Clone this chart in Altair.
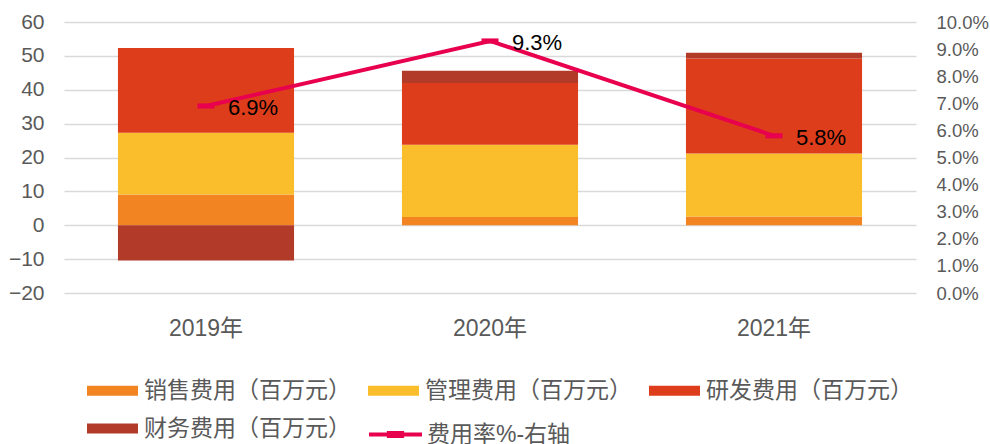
import altair as alt
import pandas as pd

years = ["2019年", "2020年", "2021年"]
series = ["销售费用（百万元）", "管理费用（百万元）", "研发费用（百万元）", "财务费用（百万元）"]
sales = [9.1, 2.4, 2.6]
admin = [18.2, 21.4, 18.6]
rnd = [25.0, 18.2, 28.0]
fin = [-10.4, 3.6, 1.7]
rate = [0.069, 0.093, 0.058]
line_name = "费用率%-右轴"

colors = ["#F28522", "#FABD2C", "#DD3D1B", "#B23A29"]
crimson = "#E8004F"
gray = "#595959"
font = "Liberation Sans, Noto Sans CJK SC, sans-serif"

rows = []
for s_i, (name, vals) in enumerate(zip(series, [sales, admin, rnd, fin])):
    for y, v in zip(years, vals):
        rows.append({"year": y, "series": name, "value": v, "ord": s_i})
df_bars = pd.DataFrame(rows)
df_line = pd.DataFrame({"year": years, "rate": rate, "name": [line_name] * 3})

x_enc = alt.X(
    "year:N",
    sort=years,
    scale=alt.Scale(paddingInner=0.38, paddingOuter=0.19),
    axis=alt.Axis(title=None, labelAngle=0, labelFontSize=23, labelColor=gray,
                  labelFont=font, labelPadding=24, domain=False, ticks=False, grid=False),
)

bars = alt.Chart(df_bars).mark_bar().encode(
    x=x_enc,
    y=alt.Y(
        "value:Q",
        stack="zero",
        scale=alt.Scale(domain=[-20, 60], nice=False, zero=False),
        axis=alt.Axis(title=None, values=list(range(-20, 61, 10)), labelFontSize=21,
                      labelColor=gray, labelFont=font, labelPadding=20, domain=False,
                      ticks=False, grid=True, gridColor="#D9D9D9", gridWidth=1.5),
    ),
    color=alt.Color(
        "series:N",
        sort=series,
        scale=alt.Scale(domain=series, range=colors),
        legend=alt.Legend(
            title=None, orient="none", legendX=23, legendY=343, direction="horizontal",
            columns=3, symbolType="M-1,-0.2H1V0.2H-1Z", symbolSize=2601,
            symbolStrokeWidth=0, labelFontSize=23, labelColor=gray, labelFont=font,
            labelOffset=6, columnPadding=17, rowPadding=-8, labelLimit=400, padding=0,
        ),
    ),
    order=alt.Order("ord:Q"),
)

y_right = alt.Y(
    "rate:Q",
    scale=alt.Scale(domain=[0, 0.1], nice=False),
    axis=alt.Axis(title=None, orient="right", format=".1%",
                  values=[round(i * 0.01, 2) for i in range(11)],
                  labelFontSize=18.5, labelColor=gray, labelFont=font,
                  labelPadding=20, labelAlign="left", domain=False, ticks=False, grid=False),
)

line = alt.Chart(df_line).mark_line(strokeWidth=4).encode(
    x=x_enc,
    y=y_right,
    stroke=alt.Stroke(
        "name:N",
        scale=alt.Scale(domain=[line_name], range=[crimson]),
        legend=alt.Legend(
            title=None, orient="none", legendX=303, legendY=384,
            symbolType="M-1,0H1M-0.25,-0.06H0.25V0.06H-0.25Z", symbolSize=2809,
            symbolStrokeWidth=4, symbolFillColor=crimson, labelFontSize=23,
            labelColor=gray, labelFont=font, labelOffset=3, labelLimit=400, padding=0,
        ),
    ),
)

points = alt.Chart(df_line).mark_point(
    filled=True, shape="M-1,-0.3H1V0.3H-1Z", size=289, color=crimson, opacity=1
).encode(x=x_enc, y=y_right)

labels = alt.Chart(df_line).mark_text(
    align="left", baseline="middle", dx=22, dy=2, fontSize=22, color="black", font=font
).encode(x=x_enc, y=y_right, text=alt.Text("rate:Q", format=".1%"))

chart = (
    alt.layer(bars, alt.layer(line, points, labels))
    .resolve_scale(y="independent")
    .properties(
        width=852, height=271, autosize="none", background="white",
        padding={"left": 64, "top": 22, "right": 74, "bottom": 151},
    )
    .configure_view(strokeWidth=0, strokeOpacity=0)
    .configure_axis(domain=False, ticks=False)
    .configure_axisX(grid=False)
)

chart.save("out.html", embed_options={"renderer": "svg", "actions": False})
